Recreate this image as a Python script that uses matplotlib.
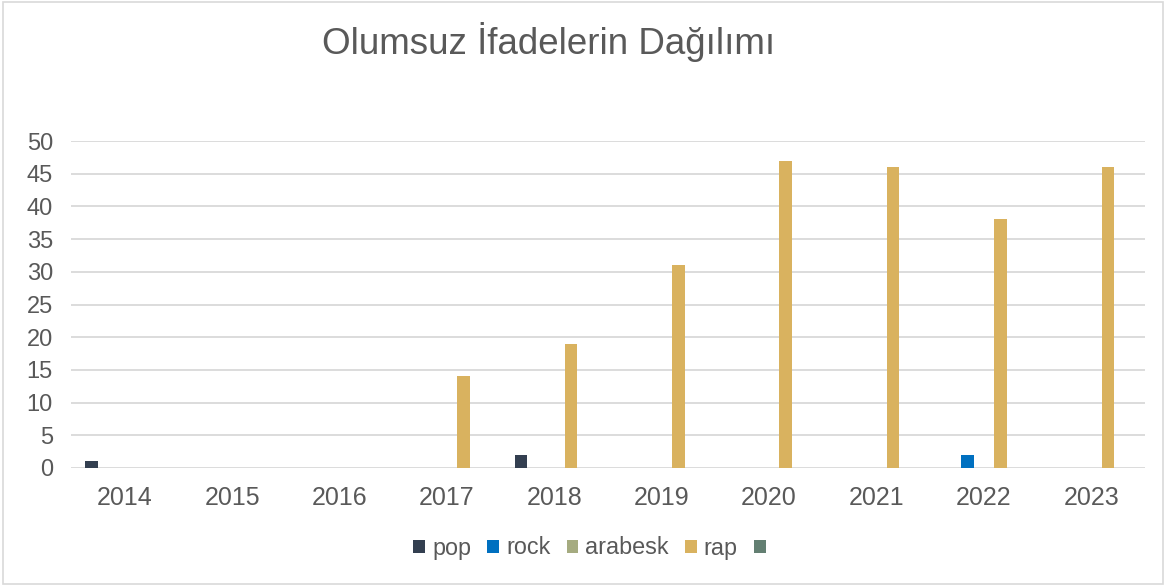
import numpy as np
import matplotlib.pyplot as plt

plt.rcParams['font.family'] = ['Liberation Sans', 'DejaVu Sans']

years = ['2014', '2015', '2016', '2017', '2018', '2019', '2020', '2021', '2022', '2023']
pop = [1, 0, 0, 0, 2, 0, 0, 0, 0, 0]
rock = [0, 0, 0, 0, 0, 0, 0, 0, 2, 0]
arabesk = [0, 0, 0, 0, 0, 0, 0, 0, 0, 0]
rap = [0, 0, 0, 14, 19, 31, 47, 46, 38, 46]
other = [0, 0, 0, 0, 0, 0, 0, 0, 0, 0]

series = [('pop', pop, '#333F50'),
          ('rock', rock, '#0070C0'),
          ('arabesk', arabesk, '#A5AB80'),
          ('rap', rap, '#D9B25F'),
          ('', other, '#637F72')]

fig = plt.figure(figsize=(11.66, 5.86), dpi=100)
ax = fig.add_axes([71 / 1166, 1 - 468 / 586, (1145 - 71) / 1166, (468 - 141) / 586])

x = np.arange(len(years))
step = 0.155
width = 0.118
handles = []
for i, (name, vals, col) in enumerate(series):
    b = ax.bar(x + (i - 2) * step, vals, width, color=col, zorder=3)
    handles.append(b)

ax.set_xlim(-0.5, len(years) - 0.5)
ax.set_ylim(0, 50)
ax.set_yticks(range(0, 51, 5))
ax.set_xticks(x)
ax.set_xticklabels(years)
ax.yaxis.grid(True, color='#D9D9D9', linewidth=1.3, zorder=0)
ax.tick_params(length=0, colors='#595959')
ax.tick_params(axis='x', pad=13, labelsize=18)
ax.tick_params(axis='y', pad=13, labelsize=17)
for s in ax.spines.values():
    s.set_visible(False)

fig.text(549 / 1166, 1 - 42 / 586, 'Olumsuz İfadelerin Dağılımı', ha='center', va='center',
         fontsize=26.5, color='#595959')

fig.legend(handles, [s[0] for s in series], loc='center', bbox_to_anchor=(593 / 1166, 1 - 548 / 586),
           ncol=5, frameon=False, fontsize=16.8, labelcolor='#595959',
           handlelength=0.5, handleheight=0.5, handletextpad=0.3, columnspacing=0.7)

border = plt.Rectangle((0.003, 0.003), 0.994, 0.994, transform=fig.transFigure,
                       fill=False, edgecolor='#D9D9D9', linewidth=1.2)
fig.patches.append(border)

plt.savefig('out.png', dpi=100)
